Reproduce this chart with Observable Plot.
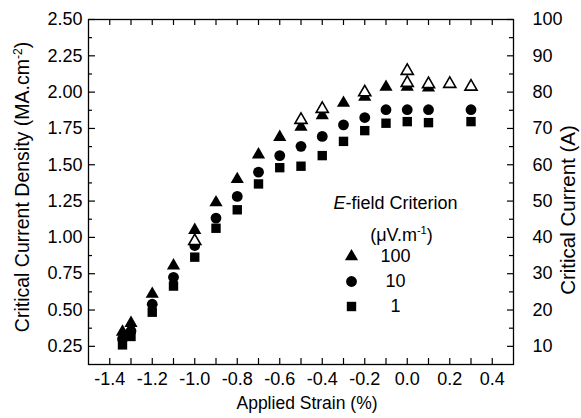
<!DOCTYPE html>
<html>
<head>
<meta charset="utf-8">
<script src="https://cdn.jsdelivr.net/npm/d3@7"></script>
<script src="https://cdn.jsdelivr.net/npm/@observablehq/plot@0.6"></script>
<style>
  html, body { margin: 0; padding: 0; background: #fff; }
</style>
</head>
<body>
<div id="chart"></div>
<script>
// ---- data ----
const strain100 = [-1.34, -1.30, -1.2, -1.1, -1.0, -0.9, -0.8, -0.7, -0.6, -0.5, -0.4, -0.3, -0.2, -0.1, 0.0, 0.1];
const jc100     = [0.35, 0.41, 0.61, 0.805, 1.05, 1.24, 1.40, 1.57, 1.69, 1.76, 1.84, 1.925, 1.967, 2.035, 2.035, 2.03];

const strain10 = [-1.34, -1.30, -1.2, -1.1, -1.0, -0.9, -0.8, -0.7, -0.6, -0.5, -0.4, -0.3, -0.2, -0.1, 0.0, 0.1, 0.3];
const jc10     = [0.30, 0.355, 0.54, 0.725, 0.944, 1.133, 1.282, 1.449, 1.563, 1.627, 1.695, 1.775, 1.825, 1.879, 1.879, 1.879, 1.879];

const strain1 = [-1.34, -1.30, -1.2, -1.1, -1.0, -0.9, -0.8, -0.7, -0.6, -0.5, -0.4, -0.3, -0.2, -0.1, 0.0, 0.1, 0.3];
const jc1     = [0.26, 0.318, 0.485, 0.665, 0.864, 1.063, 1.19, 1.368, 1.48, 1.49, 1.563, 1.661, 1.735, 1.786, 1.797, 1.79, 1.797];

// open triangles (100 µV/m, second set)
const strainOpen = [-1.0, -0.5, -0.4, -0.2, 0.0, 0.0, 0.1, 0.2, 0.3];
const jcOpen     = [0.975, 1.809, 1.885, 1.999, 2.146, 2.064, 2.055, 2.057, 2.038];

// ticks
const xTickLabels = [-1.4, -1.2, -1.0, -0.8, -0.6, -0.4, -0.2, 0.0, 0.2, 0.4];
const xTicks = [-1.4, -1.3, -1.2, -1.1, -1.0, -0.9, -0.8, -0.7, -0.6, -0.5, -0.4, -0.3, -0.2, -0.1, 0.0, 0.1, 0.2, 0.3, 0.4];
const yTickLabels = [0.25, 0.50, 0.75, 1.00, 1.25, 1.50, 1.75, 2.00, 2.25, 2.50];
const yMinorTicks = [0.375, 0.625, 0.875, 1.125, 1.375, 1.625, 1.875, 2.125, 2.375];
const ampTickLabels = [10, 20, 30, 40, 50, 60, 70, 80, 90, 100];
const ampMinorTicks = [15, 25, 35, 45, 55, 65, 75, 85, 95];
const ampPerJc = 40; // 100 A <-> 2.50 MA.cm-2

const legendLabels = ["100", "10", "1"];
const legendSymbols = ["triangle", "circle", "square"];

// ---- layout ----
const W = 581, Hs = 418;
const mL = 88, mR = 68, mT = 19, mB = 54;
const fw = W - mL - mR, fh = Hs - mT - mB;
const font = "Liberation Sans, Arial, Helvetica, sans-serif";
const fs = 18;
const mid = {textAnchor: "middle", lineAnchor: "middle"};

const toRows = (xs, ys) => xs.map((x, i) => ({x, y: ys[i]}));
const symR = s => s === "triangle" ? 4.9 : (s === "circle" ? 5.4 : 5.3);

const marks = [
  // data
  Plot.dot(toRows(strain1, jc1), {x: "x", y: "y", symbol: "square", r: symR("square"), fill: "black"}),
  Plot.dot(toRows(strain10, jc10), {x: "x", y: "y", symbol: "circle", r: symR("circle"), fill: "black"}),
  Plot.dot(toRows(strain100, jc100), {x: "x", y: "y", symbol: "triangle", r: symR("triangle"), fill: "black"}),
  Plot.dot(toRows(strainOpen, jcOpen), {x: "x", y: "y", symbol: "triangle", r: 4.5, fill: "white", stroke: "black", strokeWidth: 1.6}),

  // ticks (inward)
  Plot.tickX(xTicks, {x: d => d, insetTop: fh - 6, stroke: "black", strokeWidth: 1.2}),
  Plot.tickX(xTicks, {x: d => d, insetBottom: fh - 6, stroke: "black", strokeWidth: 1.2}),
  Plot.tickY(yTickLabels, {y: d => d, insetRight: fw - 7, stroke: "black", strokeWidth: 1.2}),
  Plot.tickY(yMinorTicks, {y: d => d, insetRight: fw - 4, stroke: "black", strokeWidth: 1.2}),
  Plot.tickY(ampTickLabels, {y: d => d / ampPerJc, insetLeft: fw - 6, stroke: "black", strokeWidth: 1.2}),
  Plot.tickY(ampMinorTicks, {y: d => d / ampPerJc, insetLeft: fw - 4, stroke: "black", strokeWidth: 1.2}),

  // tick labels
  Plot.axisX(xTickLabels, {anchor: "bottom", tickSize: 0, tickPadding: 8, tickFormat: d => d.toFixed(1), label: null, fontSize: fs}),
  Plot.axisY(yTickLabels, {anchor: "left", tickSize: 0, tickPadding: 6, tickFormat: d => d.toFixed(2), label: null, fontSize: fs}),
  Plot.axisY(ampTickLabels.map(a => a / ampPerJc), {anchor: "right", tickSize: 0, tickPadding: 19, tickFormat: d => String(Math.round(d * ampPerJc)), label: null, fontSize: fs}),

  Plot.frame({stroke: "black", strokeWidth: 1.3}),

  // axis titles
  Plot.text(["Applied Strain (%)"], {frameAnchor: "bottom", ...mid, dx: 6, dy: 39, fontSize: 17.5}),
  Plot.text(["Critical Current Density (MA.cm-2)"], {frameAnchor: "left", ...mid, rotate: -90, dx: -66, dy: -5, fontSize: 19.5}),
  Plot.text(["Critical Current (A)"], {frameAnchor: "right", ...mid, rotate: -90, dx: 55, dy: 18, fontSize: 20.5}),

  // legend
  Plot.text(["E-field Criterion"], {frameAnchor: "top-left", ...mid, dx: 307, dy: 184, fontSize: fs}),
  Plot.text(["(μV.m-1)"], {frameAnchor: "top-left", ...mid, dx: 313, dy: 216, fontSize: fs}),
  ...legendLabels.flatMap((lab, i) => [
    Plot.dot([lab], {frameAnchor: "top-left", dx: 263, dy: 237 + i * 25, symbol: legendSymbols[i], r: symR(legendSymbols[i]), fill: "black"}),
    Plot.text([lab], {frameAnchor: "top-left", ...mid, dx: 307, dy: 237 + i * 25, fontSize: fs})
  ])
];

const chart = Plot.plot({
  width: W,
  height: Hs,
  marginLeft: mL, marginRight: mR, marginTop: mT, marginBottom: mB,
  x: {domain: [-1.5, 0.5]},
  y: {domain: [0.125, 2.5]},
  style: {fontFamily: font, fontSize: fs + "px", background: "white", color: "black"},
  marks
});

// superscripts and italics
d3.select(chart).selectAll("text").each(function () {
  const t = d3.select(this);
  const s = this.textContent;
  const sup = (before, exp, after) => {
    t.text(null);
    t.append("tspan").text(before);
    t.append("tspan").attr("dy", -7).attr("font-size", "0.62em").text(exp);
    t.append("tspan").attr("dy", 7).text(after);
  };
  if (s === "Critical Current Density (MA.cm-2)") sup("Critical Current Density (MA.cm", "-2", ")");
  else if (s === "(μV.m-1)") sup("(μV.m", "-1", ")");
  else if (s === "E-field Criterion") {
    t.text(null);
    t.append("tspan").attr("font-style", "italic").text("E");
    t.append("tspan").text("-field Criterion");
  }
});

document.getElementById("chart").appendChild(chart);
</script>
</body>
</html>
